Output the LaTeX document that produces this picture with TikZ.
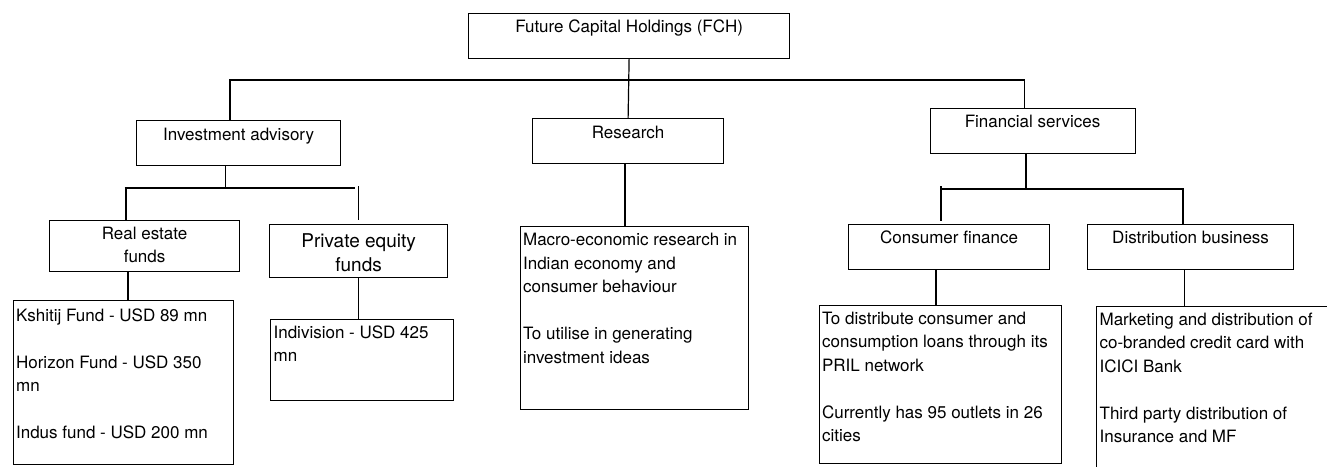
\documentclass[tikz,border=0pt]{standalone}
\usepackage{fontspec}
\setmainfont{TeX Gyre Heros}
\usetikzlibrary{calc}

% text sizes
\newcommand{\fs}{\fontsize{17}{23.5}\selectfont}
\newcommand{\fsbig}{\fontsize{19}{24}\selectfont}
% centred box text: [first baseline]{width}{height}{text}
\newcommand{\ctext}[4][19.5pt]{\parbox[c][#3][t]{#2}{\centering\rule{0pt}{#1}#4}}
% left-aligned box text
\newcommand{\ltext}[4][19.5pt]{\parbox[c][#3][t]{#2}{\raggedright\leftskip=3pt\rule{0pt}{#1}#4}}

\tikzset{
  box/.style={draw, line width=1.2pt, inner sep=0pt, anchor=north west, font=\fs},
  link/.style={line width=1.2pt},
}

\begin{document}
\begin{tikzpicture}[x=1pt, y=-1pt]
\useasboundingbox (0,0) rectangle (1327,466);
\clip (0,0) rectangle (1327,466);

% top level
\node[box] (fch) at (468,12.5) {\ctext{321pt}{45.5pt}{Future Capital Holdings (FCH)}};

% divisions
\node[box] (inv) at (136,120) {\ctext{204pt}{45pt}{Investment advisory}};
\node[box] (res) at (532,118) {\ctext{191pt}{45pt}{Research}};
\node[box] (fin) at (929.5,107.5) {\ctext{205pt}{45pt}{Financial services}};

% investment advisory branches
\node[box] (re) at (49,219.5) {\ctext[19pt]{190pt}{51pt}{Real estate\\funds}};
\node[box, font=\fsbig] (pe) at (269,224) {\ctext[22.5pt]{178pt}{53pt}{Private equity\\funds}};
\node[box] (redet) at (12.5,300) {\ltext[20.5pt]{220pt}{164pt}{Kshitij Fund - USD 89 mn\\[23.5pt]Horizon Fund - USD 350\\mn\\[23.5pt]Indus fund - USD 200 mn}};
\node[box] (pedet) at (270,318.5) {\ltext[19pt]{183pt}{81pt}{Indivision - USD 425\\mn}};

% research detail
\node[box] (macro) at (519.5,225.5) {\ltext[19.5pt]{228pt}{183pt}{Macro-economic research in\\Indian economy and\\consumer behaviour\\[23.5pt]To utilise in generating\\investment ideas}};

% financial services branches
\node[box] (cons) at (848,224) {\ctext[19pt]{201pt}{45pt}{Consumer finance}};
\node[box] (dist) at (1087,224) {\ctext[19pt]{206pt}{45pt}{Distribution business}};
\node[box] (consdet) at (818.5,304.5) {\ltext[19pt]{242.5pt}{158.5pt}{To distribute consumer and\\consumption loans through its\\PRIL network\\[23.5pt]Currently has 95 outlets in 26\\cities}};
\node[box] (distdet) at (1096,306) {\ltext[18.5pt]{260pt}{200pt}{Marketing and distribution of\\co-branded credit card with\\ICICI Bank\\[23.5pt]Third party distribution of\\Insurance and MF}};

% bus from the holding company
\coordinate (busL) at (230,80);
\coordinate (busR) at (1024.5,80);
\draw[link] (fch.south) -- (res.north);
\draw[link] (inv.north -| busL) -- (busL) -- (busR) -- (fin.north -| busR);

% investment advisory connectors
\coordinate (ia) at (225.5,188);
\coordinate (iaL) at (124.5,188);
\coordinate (iaR) at (355,188);
\coordinate (reX) at (126,188);
\coordinate (peTop) at (358.5,186);
\coordinate (peBot) at (358.5,220);
\draw[link] (inv.south -| ia) -- (ia);
\draw[link] (iaL) -- (iaR);
\draw[link] (reX) -- (re.north -| reX);
\draw[link] (peTop) -- (peBot);
\coordinate (reLink) at (128,0);
\draw[link] (re.south -| reLink) -- (redet.north -| reLink);
\coordinate (peLink) at (358.5,0);
\draw[link] (pe.south -| peLink) -- (pedet.north -| peLink);

% research connector
\coordinate (resLink) at (625,0);
\draw[link] (res.south -| resLink) -- (macro.north -| resLink);

% financial services connectors
\coordinate (fs) at (1026,189);
\coordinate (fsL) at (941,189);
\coordinate (fsR) at (1183,189);
\coordinate (consTop) at (941,221);
\draw[link] (fin.south -| fs) -- (fs);
\draw[link] (fsL) -- (fsR) -- (dist.north -| fsR);
\draw[link] (941,186) -- (consTop);
\coordinate (consLink) at (936,0);
\draw[link] (cons.south -| consLink) -- (consdet.north -| consLink);
\coordinate (distLink) at (1184.5,0);
\draw[link] (dist.south -| distLink) -- (distdet.north -| distLink);
\end{tikzpicture}
\end{document}
